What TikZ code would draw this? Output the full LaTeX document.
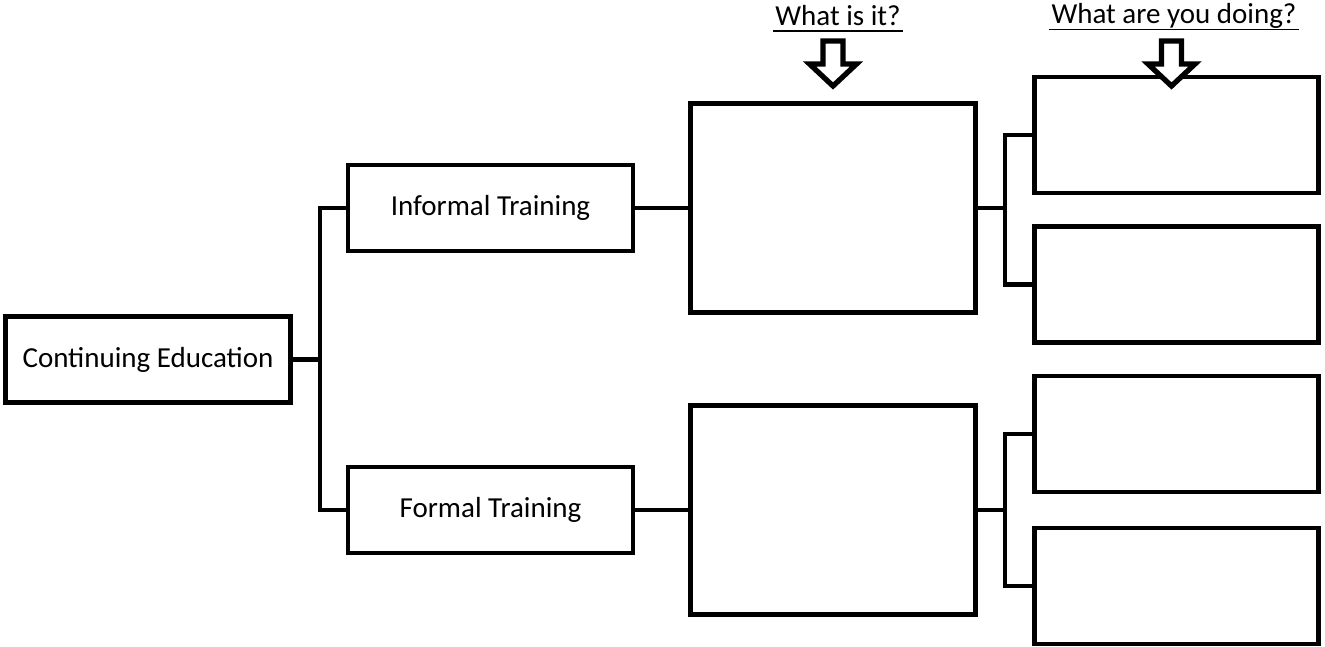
\documentclass[tikz,border=0pt]{standalone}
\usepackage{fontspec}
\setmainfont{Carlito}
\usepackage{tikz}
\usetikzlibrary{positioning}

\begin{document}
\begin{tikzpicture}[x=0.02cm, y=-0.02cm, line width=2.7pt, font=\fontsize{16.5}{20}\selectfont,
    box/.style={draw, rectangle, minimum width=5.7cm, minimum height=1.72cm, inner sep=0pt}]
    \useasboundingbox (0,0) rectangle (1325,646);
    % 左侧主题
    \node[box] (CE) at (148,359.5) {Continuing Education};
    % 两种培训
    \node[box] (Inf) at (490.5,208) {Informal Training};
    \node[box] (Frm) at (490.5,510) {Formal Training};
    % 大空白框
    \foreach \y [count=\i] in {208,510} {
        \node[box, minimum height=4.18cm] (W\i) at (832.75,\y) {};
    }
    % 右侧小空白框
    \foreach \y [count=\i] in {135,284.5,434,586} {
        \node[box, minimum width=5.68cm, minimum height=2.32cm] (D\i) at (1176.5,\y) {};
    }
    % 连线
    \coordinate (B0) at (320,359.5);
    \draw (CE.east) -- (B0);
    \draw (Inf.west) -| (B0) |- (Frm.west);
    \draw (Inf.east) -- (W1.west);
    \draw (Frm.east) -- (W2.west);
    \coordinate (B1) at (1005,208);
    \coordinate (B2) at (1005,510);
    \draw (W1.east) -- (B1);
    \draw (W2.east) -- (B2);
    \draw (D1.west) -| (B1) |- (D2.west);
    \draw (D3.west) -| (B2) |- (D4.west);
    % 标题
    \node[inner sep=0pt, anchor=base] (T1) at (838,25) {What is it?};
    \node[inner sep=0pt, anchor=base] (T2) at (1174,23.3) {What are you doing?};
    \foreach \t in {T1,T2} {
        \draw[line width=0.8pt] ([yshift=-3.4pt]\t.base west) -- ([yshift=-3.4pt]\t.base east);
    }
    % 空心箭头
    \foreach \x in {833,1171.5} {
        \draw[fill=white, line width=3pt] ({\x-10},41) -- ({\x+10},41) -- ({\x+10},64) -- ({\x+23.5},64) -- (\x,86) -- ({\x-23.5},64) -- ({\x-10},64) -- cycle;
    }
\end{tikzpicture}
\end{document}
